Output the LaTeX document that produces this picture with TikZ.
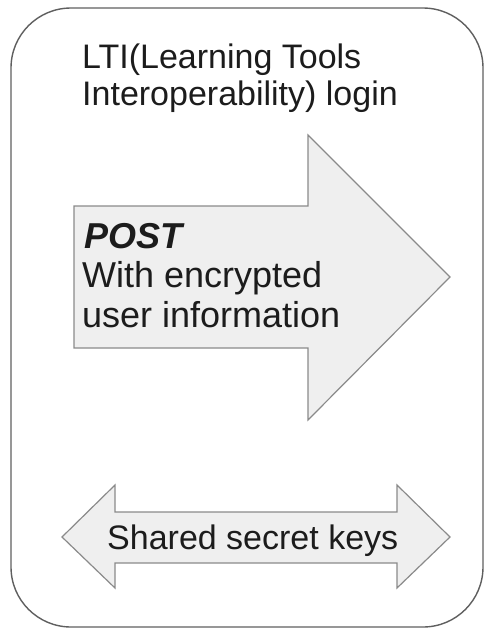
\documentclass[tikz,border=0pt]{standalone}
\usepackage{fontspec}
\setmainfont{Liberation Sans}

\definecolor{arrowfill}{HTML}{EFEFEF}
\definecolor{arrowline}{HTML}{8A8A8A}
\definecolor{frameline}{HTML}{5F5F5F}
\definecolor{txt}{HTML}{1C1C1C}

\begin{document}
\begin{tikzpicture}[x=1pt, y=-1pt,
	frame/.style={draw=frameline, line width=1.4pt, rounded corners=60pt},
	bigarrow/.style={draw=arrowline, fill=arrowfill, line width=1.2pt, line join=miter},
	lbl/.style={anchor=base west, inner sep=0pt, text=txt, font=\fontsize{34}{38}\selectfont},
	biglbl/.style={lbl, font=\fontsize{36}{40}\selectfont}]
	
	\useasboundingbox (0,0) rectangle (485,630);
	
	\draw[frame] (11,8) rectangle (483,627);
	
	\node[lbl] (title1) at (82,68) {LTI(Learning Tools};
	\node[lbl] (title2) at (82,105) {Interoperability) login};
	
	% POST arrow
	\draw[bigarrow] (74,206) coordinate (s1) -- (308,206) -- (308,135) coordinate (h1)
		-- (450,277) coordinate (tip) -- (308,420) coordinate (h2) -- (308,348) -- (74,348) coordinate (s2) -- cycle;
	
	\node[biglbl] (post) at (84,248) {\bfseries\itshape POST};
	\node[biglbl] (with) at (82,287) {With encrypted};
	\node[biglbl] (user) at (82,327) {user information};
	
	% shared keys arrow
	\draw[bigarrow] (62,537) coordinate (ltip) -- (115,485) -- (115,512) -- (397,512) -- (397,485)
		-- (450,537) coordinate (rtip) -- (397,588) -- (397,563) -- (115,563) -- (115,588) -- cycle;
	
	\node[lbl] (keys) at (107,549) {Shared secret keys};
	
\end{tikzpicture}
\end{document}
